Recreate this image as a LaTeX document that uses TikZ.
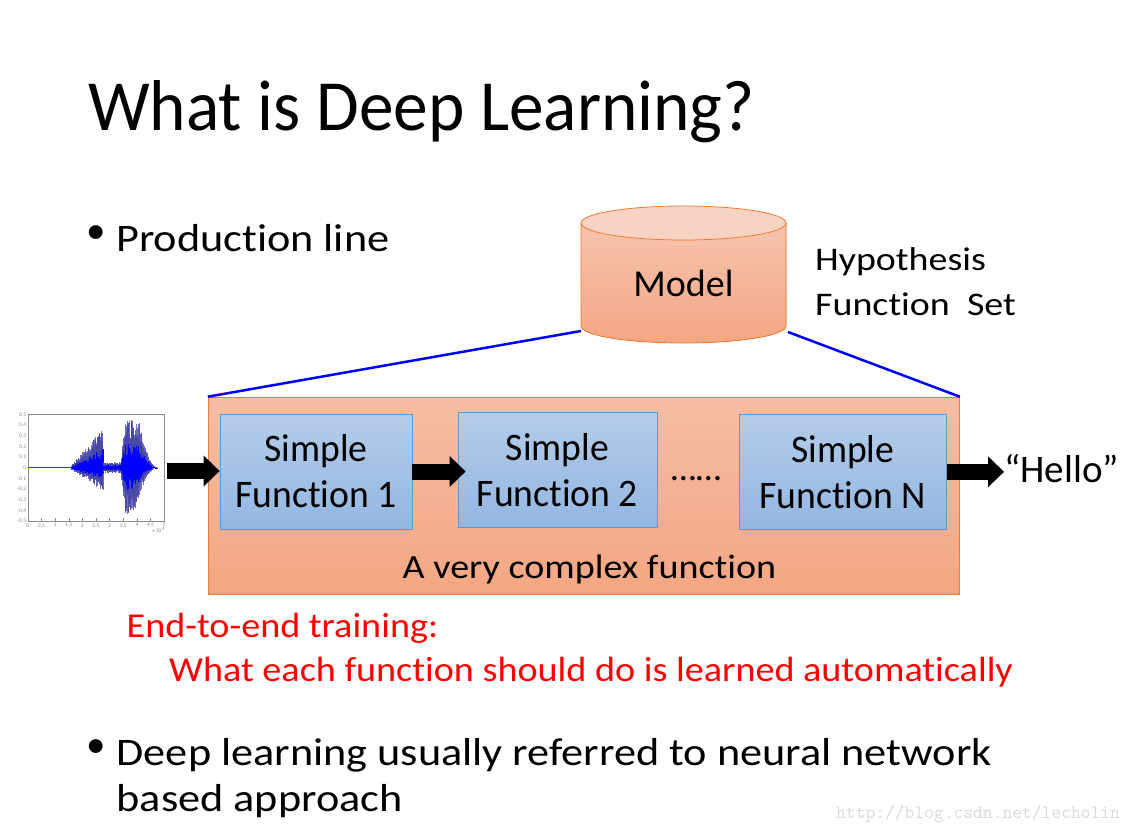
\documentclass[tikz,border=0pt]{standalone}
\usepackage{fontspec}
\defaultfontfeatures{Ligatures=NoCommon}
\setmainfont{Carlito}
\newfontfamily\fTitle[FakeStretch=0.963]{Carlito}
\newfontfamily\fBody[FakeStretch=1.135]{Carlito}
\newfontfamily\fHyp[FakeStretch=1.15]{Carlito}
\newfontfamily\fCplx[FakeStretch=1.12]{Carlito}
\newfontfamily\fRed[FakeStretch=1.09]{Carlito}
\newfontfamily\fBox[FakeStretch=0.965]{Carlito}
\usetikzlibrary{arrows.meta}
\definecolor{orng}{HTML}{ED7D31}
\definecolor{cyllid}{HTML}{F8D3C3}
\definecolor{cyltop}{HTML}{F6C4AE}
\definecolor{cylbot}{HTML}{F4A683}
\definecolor{bigtop}{HTML}{F5BDA4}
\definecolor{bigbot}{HTML}{F4A682}
\definecolor{boxtop}{HTML}{B4CDE9}
\definecolor{boxbot}{HTML}{93B6E2}
\definecolor{boxedge}{HTML}{5B9BD5}
\definecolor{redtxt}{HTML}{FF0000}
\definecolor{wmgray}{HTML}{DCDAD6}
\definecolor{wavedark}{HTML}{4848A8}
\definecolor{axisgray}{HTML}{8A8A8A}
\begin{document}
\begin{tikzpicture}[x=1pt,y=-1pt,
  every node/.style={inner sep=0pt},
  txt/.style={anchor=base west, inner sep=0pt},
  fbox/.style={draw=boxedge, line width=0.8pt, top color=boxtop, bottom color=boxbot,
    align=center, font=\fBox\fontsize{39}{46}\selectfont},
  fat/.style={line width=16pt, -{Triangle[length=16pt,width=31pt,line width=0pt]}},
  hyp/.style={draw=blue, line width=2.5pt},
  ticklbl/.style={text=axisgray, font=\fontsize{5.5}{6}\selectfont}]
\useasboundingbox (0,0) rectangle (1137,834);
\fill[white] (0,0) rectangle (1137,834);

% title
\node[txt, font=\fTitle\fontsize{72}{86}\selectfont] (title) at (88,131) {What is Deep Learning?};

% bullet 1
\node[txt, font=\fontsize{39}{47}\selectfont] (bul1) at (86.5,243.5) {•};
\node[txt, font=\fBody\fontsize{39}{47}\selectfont] (prod) at (116,252) {Production line};

% cylinder (model)
\fill[top color=cyltop, bottom color=cylbot] (581,223) -- (581,326)
  .. controls (581,335.4) and (626.9,343) .. (683.5,343)
  .. controls (740.1,343) and (786,335.4) .. (786,326) -- (786,223) -- cycle;
\draw[orng, line width=0.8pt] (581,223) -- (581,326)
  .. controls (581,335.4) and (626.9,343) .. (683.5,343)
  .. controls (740.1,343) and (786,335.4) .. (786,326) -- (786,223);
\draw[orng, line width=0.8pt, fill=cyllid] (683.5,223) ellipse [x radius=102.5, y radius=17];
\node[anchor=base, font=\fontsize{38}{46}\selectfont] (model) at (683.5,296.7) {Model};
\coordinate (cylL) at (581,331);
\coordinate (cylR) at (788,332);

\node[txt, font=\fHyp\fontsize{33}{40}\selectfont] (hyp1) at (815,270) {Hypothesis};
\node[txt, font=\fHyp\fontsize{33}{40}\selectfont] (hyp2) at (815,315) {Function\ \ Set};

% big box
\node[draw=orng, line width=1pt, top color=bigtop, bottom color=bigbot,
  minimum width=751pt, minimum height=197pt] (big) at (583.8,495.7) {};
\draw[hyp] (cylL) -- (big.north west);
\draw[hyp] (cylR) -- (big.north east);

% simple function boxes
\node[fbox, minimum width=192pt, minimum height=115pt] (b1) at (316,471.5) {Simple\\Function 1};
\node[fbox, minimum width=199pt, minimum height=115pt] (b2) at (557.5,469.7) {Simple\\Function 2};
\node[fbox, minimum width=207pt, minimum height=115pt] (bN) at (842.8,471.8) {Simple\\Function N};
\node[txt, font=\fontsize{36}{40}\selectfont] (dots) at (671,480) {……};
\node[anchor=base, font=\fCplx\fontsize{34}{40}\selectfont] (complex) at (589.5,578) {A very complex function};

% waveform
\node[minimum width=162pt, minimum height=132pt] (wave) at (86,471) {};
\pgfmathsetseed{12345}
\begin{scope}[shift={(27.7,467.7)}, x=27.3pt, y=106.8pt]
  \draw[axisgray, line width=0.4pt] (0,-0.5) rectangle (5,0.5);
  \foreach \v/\l in {0.5/0.5,0.4/0.4,0.3/0.3,0.2/0.2,0.1/0.1,0/0,-0.1/-0.1,-0.2/-0.2,-0.3/-0.3,-0.4/-0.4,-0.5/-0.5}{
    \draw[axisgray, line width=0.3pt] (0,\v) -- (0.06,\v);
    \node[ticklbl, anchor=east] at (-0.05,\v) {\l};
  }
  \foreach \v/\l in {0/0,0.5/0.5,1/1,1.5/1.5,2/2,2.5/2.5,3/3,3.5/3.5,4/4,4.5/4.5,5/5}{
    \draw[axisgray, line width=0.3pt] (\v,-0.5) -- (\v,-0.47);
    \node[ticklbl, anchor=north] at (\v,-0.52) {\l};
  }
  \node[ticklbl, anchor=north east] at (5.05,-0.56) {x 10$^4$};
  \draw[blue!80!white, line width=0.8pt] (0,0) -- (1.62,0);
  \foreach \i in {0,...,315}{
    \pgfmathsetmacro\xx{1.6+\i*0.01}
    \pgfmathsetmacro\U{ifthenelse(\xx<2.75, 0.02+0.35*(\xx-1.6)/1.15,
      ifthenelse(\xx<3.4, 0.05, ifthenelse(\xx<3.55, 0.05+0.43*(\xx-3.4)/0.15,
      ifthenelse(\xx<4.1, 0.48-0.06*(\xx-3.55)/0.55, 0.42*((4.76-\xx)/0.66)*((4.76-\xx)/0.66)))))}
    \pgfmathsetmacro\L{ifthenelse(\xx<2.75, 0.02+0.2*(\xx-1.6)/1.15,
      ifthenelse(\xx<3.4, 0.05, ifthenelse(\xx<3.58, 0.05+0.42*(\xx-3.4)/0.18,
      ifthenelse(\xx<3.95, 0.47-0.1*(\xx-3.58)/0.37, 0.37*((4.76-\xx)/0.81)*((4.76-\xx)/0.81)))))}
    \pgfmathsetmacro\ra{0.45+0.55*rnd}
    \pgfmathsetmacro\rb{0.45+0.55*rnd}
    \draw[wavedark, opacity=0.8, line width=0.4pt] (\xx,\U*\ra) -- (\xx,-\L*\rb);
    \draw[blue, line width=0.5pt] (\xx,0.5*\U*\rb) -- (\xx,-0.5*\L*\ra);
  }
\end{scope}

% arrows
\draw[fat] (wave.east) -- (wave.east -| b1.west);
\draw[fat] (b1.east) -- ([xshift=8pt]b1.east -| b2.west);
\node[txt, font=\fontsize{39}{46}\selectfont] (hello) at (1004,482) {“Hello”};
\draw[fat] (bN.east) -- (bN.east -| hello.west);

% red text
\node[txt, text=redtxt, font=\fRed\fontsize{35}{42}\selectfont] (e2e) at (126.5,637.3) {End-to-end training:};
\node[txt, text=redtxt, font=\fRed\fontsize{35}{42}\selectfont] (what) at (169,681.7) {What each function should do is learned automatically};

% bullet 2
\node[txt, font=\fontsize{39}{47}\selectfont] (bul2) at (86.5,757) {•};
\node[txt, font=\fBody\fontsize{39}{47}\selectfont] (deep1) at (116.5,765) {Deep learning usually referred to neural network};
\node[txt, font=\fBody\fontsize{39}{47}\selectfont] (deep2) at (116.5,811.7) {based approach};

% watermark
\node[txt, text=wmgray, font=\ttfamily\fontsize{19}{20}\selectfont] (wm) at (836,818) {http://blog.csdn.net/lecholin};
\end{tikzpicture}
\end{document}
